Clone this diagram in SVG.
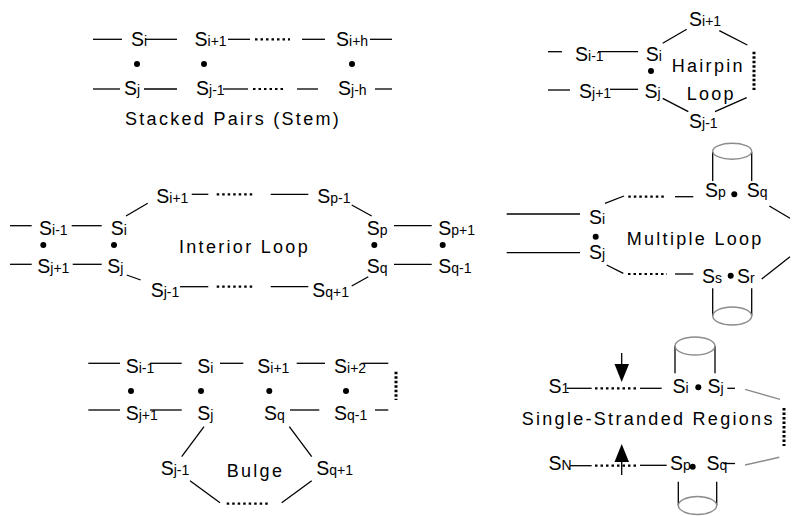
<svg xmlns="http://www.w3.org/2000/svg" width="794" height="516" viewBox="0 0 794 516">
<style>
.l{stroke:#000;stroke-width:1.3;fill:none}
.d{stroke:#000;stroke-width:2.2;stroke-dasharray:2.5 3;fill:none}
.v{stroke:#000;stroke-width:3;stroke-dasharray:2.5 2;fill:none}
.g{stroke:#8c8c8c;stroke-width:1.4;fill:none}
.t{font-family:"Liberation Sans",Arial,sans-serif;font-size:19.5px;fill:#000}
.s{font-size:14px}
.lab{font-family:"Liberation Sans",Arial,sans-serif;font-size:18px;letter-spacing:2.3px;fill:#000}
.b{fill:#000}
</style>
<rect width="794" height="516" fill="#fff"/>

<!-- Stacked pairs -->
<g id="sp_i" class="t"><text x="131" y="45.5">S<tspan class="s">i</tspan></text></g>
<g id="sp_i1" class="t"><text x="194.5" y="45.5">S<tspan class="s">i+1</tspan></text></g>
<g id="sp_ih" class="t"><text x="336" y="45.5">S<tspan class="s">i+h</tspan></text></g>
<g id="sp_j" class="t"><text x="124" y="95">S<tspan class="s">j</tspan></text></g>
<g id="sp_j1" class="t"><text x="196" y="95">S<tspan class="s">j-1</tspan></text></g>
<g id="sp_jh" class="t"><text x="338" y="95">S<tspan class="s">j-h</tspan></text></g>
<g id="sp_label"><text class="lab" x="125" y="125">Stacked Pairs (Stem)</text></g>

<!-- Hairpin -->
<g id="hp_im1" class="t"><text x="575" y="61">S<tspan class="s">i-1</tspan></text></g>
<g id="hp_i" class="t"><text x="645.7" y="61">S<tspan class="s">i</tspan></text></g>
<g id="hp_jp1" class="t"><text x="579" y="98.3">S<tspan class="s">j+1</tspan></text></g>
<g id="hp_j" class="t"><text x="644.5" y="98">S<tspan class="s">j</tspan></text></g>
<g id="hp_ip1" class="t"><text x="689" y="25.7">S<tspan class="s">i+1</tspan></text></g>
<g id="hp_jm1" class="t"><text x="689" y="128.3">S<tspan class="s">j-1</tspan></text></g>
<g id="hp_label"><text class="lab" x="671.7" y="72.3">Hairpin</text><text class="lab" x="686.7" y="100">Loop</text></g>

<!-- Interior loop -->
<g id="il_im1" class="t"><text x="39" y="235">S<tspan class="s">i-1</tspan></text></g>
<g id="il_i" class="t"><text x="110.7" y="235">S<tspan class="s">i</tspan></text></g>
<g id="il_jp1" class="t"><text x="37.3" y="273.3">S<tspan class="s">j+1</tspan></text></g>
<g id="il_j" class="t"><text x="107.3" y="273.3">S<tspan class="s">j</tspan></text></g>
<g id="il_ip1" class="t"><text x="156.3" y="203.3">S<tspan class="s">i+1</tspan></text></g>
<g id="il_pm1" class="t"><text x="317.3" y="203.3">S<tspan class="s">p-1</tspan></text></g>
<g id="il_p" class="t"><text x="366.7" y="235">S<tspan class="s">p</tspan></text></g>
<g id="il_pp1" class="t"><text x="438.3" y="235">S<tspan class="s">p+1</tspan></text></g>
<g id="il_q" class="t"><text x="366.7" y="273.3">S<tspan class="s">q</tspan></text></g>
<g id="il_qm1" class="t"><text x="438.3" y="273.3">S<tspan class="s">q-1</tspan></text></g>
<g id="il_qp1" class="t"><text x="312.3" y="296.7">S<tspan class="s">q+1</tspan></text></g>
<g id="il_jm1" class="t"><text x="150.7" y="296.7">S<tspan class="s">j-1</tspan></text></g>
<g id="il_label"><text class="lab" x="179" y="253.3">Interior Loop</text></g>

<!-- Multiple loop -->
<g id="ml_i" class="t"><text x="589" y="224">S<tspan class="s">i</tspan></text></g>
<g id="ml_j" class="t"><text x="589" y="259">S<tspan class="s">j</tspan></text></g>
<g id="ml_p" class="t"><text x="705" y="196.5">S<tspan class="s">p</tspan></text></g>
<g id="ml_q" class="t"><text x="746.7" y="196.5">S<tspan class="s">q</tspan></text></g>
<g id="ml_s" class="t"><text x="702" y="283">S<tspan class="s">s</tspan></text></g>
<g id="ml_r" class="t"><text x="737" y="283">S<tspan class="s">r</tspan></text></g>
<g id="ml_helix1"><line class="l" x1="712.7" y1="152" x2="712.7" y2="181"/><line class="l" x1="751.7" y1="152" x2="751.7" y2="181"/><ellipse class="g" cx="732.2" cy="151.3" rx="19.5" ry="8"/></g>
<g id="ml_helix2"><line class="l" x1="712.7" y1="288.3" x2="712.7" y2="316"/><line class="l" x1="751.7" y1="288.3" x2="751.7" y2="316"/><ellipse class="g" cx="732.2" cy="316" rx="19.5" ry="9"/></g>
<g id="ml_label"><text class="lab" x="626.7" y="245">Multiple Loop</text></g>

<!-- Bulge -->
<g id="bu_im1" class="t"><text x="125.7" y="373.3">S<tspan class="s">i-1</tspan></text></g>
<g id="bu_i" class="t"><text x="197.3" y="373.3">S<tspan class="s">i</tspan></text></g>
<g id="bu_ip1" class="t"><text x="257.3" y="373.3">S<tspan class="s">i+1</tspan></text></g>
<g id="bu_ip2" class="t"><text x="334" y="373.3">S<tspan class="s">i+2</tspan></text></g>
<g id="bu_jp1" class="t"><text x="125.7" y="420">S<tspan class="s">j+1</tspan></text></g>
<g id="bu_j" class="t"><text x="197.3" y="420">S<tspan class="s">j</tspan></text></g>
<g id="bu_q" class="t"><text x="264" y="420">S<tspan class="s">q</tspan></text></g>
<g id="bu_qm1" class="t"><text x="334" y="420">S<tspan class="s">q-1</tspan></text></g>
<g id="bu_jm1" class="t"><text x="160.7" y="475">S<tspan class="s">j-1</tspan></text></g>
<g id="bu_qp1" class="t"><text x="316.3" y="475">S<tspan class="s">q+1</tspan></text></g>
<g id="bu_label"><text class="lab" x="226.7" y="476.7">Bulge</text></g>

<!-- Single-stranded -->
<g id="ss_1" class="t"><text x="548.5" y="393.3">S<tspan class="s">1</tspan></text></g>
<g id="ss_i" class="t"><text x="672.5" y="393.3">S<tspan class="s">i</tspan></text></g>
<g id="ss_j" class="t"><text x="707.5" y="393.3">S<tspan class="s">j</tspan></text></g>
<g id="ss_N" class="t"><text x="548.5" y="470">S<tspan class="s">N</tspan></text></g>
<g id="ss_p" class="t"><text x="670" y="470">S<tspan class="s">p</tspan></text></g>
<g id="ss_q" class="t"><text x="706.5" y="470">S<tspan class="s">q</tspan></text></g>
<g id="ss_helix1"><line class="l" x1="675" y1="346" x2="675" y2="373.3"/><line class="l" x1="715" y1="346" x2="715" y2="373.3"/><ellipse class="g" cx="695" cy="346" rx="20" ry="9"/></g>
<g id="ss_helix2"><line class="l" x1="678.3" y1="481.7" x2="678.3" y2="505.5"/><line class="l" x1="716.7" y1="481.7" x2="716.7" y2="505.5"/><ellipse class="g" cx="697.5" cy="505.5" rx="19.2" ry="9"/></g>
<g id="ss_arrow_top"><line class="l" x1="621.7" y1="353" x2="621.7" y2="367" stroke-width="3"/><polygon class="b" points="614.5,364 629,364 621.7,382"/></g>
<g id="ss_arrow_bottom"><line class="l" x1="621.7" y1="459" x2="621.7" y2="475" stroke-width="3"/><polygon class="b" points="614.5,462 629,462 621.7,444"/></g>
<g id="ss_label"><text class="lab" x="521.7" y="425">Single-Stranded Regions</text></g>

<!-- pairing bullets -->
<g id="pairs" class="b">
<circle cx="137" cy="64" r="3"/><circle cx="204" cy="64" r="3"/><circle cx="352" cy="64" r="3"/>
<circle cx="651" cy="71" r="3"/>
<circle cx="43.3" cy="245" r="3"/><circle cx="114" cy="245" r="3"/><circle cx="374.3" cy="245" r="3"/><circle cx="442.7" cy="245" r="3"/>
<circle cx="595.7" cy="236.7" r="3"/><circle cx="734.3" cy="194.3" r="3"/><circle cx="730.7" cy="275.7" r="3"/>
<circle cx="131" cy="391" r="3"/><circle cx="201" cy="391" r="3"/><circle cx="269.3" cy="391" r="3"/><circle cx="346" cy="391" r="3"/>
<circle cx="698.3" cy="387.3" r="3"/><circle cx="692.7" cy="466.7" r="3"/>
</g>

<!-- connectors -->
<g id="connectors">
<line class="l" x1="93" y1="39.3" x2="122" y2="39.3"/>
<line class="l" x1="145" y1="39.3" x2="177" y2="39.3"/>
<line class="l" x1="228" y1="39.3" x2="250" y2="39.3"/>
<line class="d" x1="255" y1="39.3" x2="290" y2="39.3"/>
<line class="l" x1="302" y1="39.3" x2="325" y2="39.3"/>
<line class="l" x1="370" y1="39.3" x2="392" y2="39.3"/>
<line class="l" x1="93" y1="89" x2="120" y2="89"/>
<line class="l" x1="144" y1="89" x2="177" y2="89"/>
<line class="l" x1="223" y1="89" x2="248" y2="89"/>
<line class="d" x1="253" y1="89" x2="285" y2="89"/>
<line class="l" x1="297" y1="89" x2="318" y2="89"/>
<line class="l" x1="375" y1="89" x2="392" y2="89"/>
<line class="l" x1="548" y1="51.7" x2="562" y2="51.7"/>
<line class="l" x1="598" y1="51.7" x2="638" y2="51.7"/>
<line class="l" x1="548" y1="90" x2="570" y2="90"/>
<line class="l" x1="610" y1="89.3" x2="638" y2="89.3"/>
<line class="l" x1="662.7" y1="43.3" x2="686.7" y2="29.3"/>
<line class="l" x1="719.3" y1="30.7" x2="747.3" y2="45"/>
<line class="v" x1="754" y1="51.7" x2="754" y2="90"/>
<line class="l" x1="746.7" y1="97.7" x2="715" y2="111.7"/>
<line class="l" x1="662.7" y1="98.3" x2="688.3" y2="111.7"/>
<line class="l" x1="10" y1="225.7" x2="31.7" y2="225.7"/>
<line class="l" x1="71.7" y1="225.7" x2="101.7" y2="225.7"/>
<line class="l" x1="10" y1="264.3" x2="31.7" y2="264.3"/>
<line class="l" x1="72.7" y1="264.3" x2="101.7" y2="264.3"/>
<line class="l" x1="126" y1="216" x2="147.7" y2="203.3"/>
<line class="l" x1="191.7" y1="194.3" x2="208.3" y2="194.3"/>
<line class="d" x1="216.7" y1="194.3" x2="255" y2="194.3"/>
<line class="l" x1="270.7" y1="194.3" x2="308.3" y2="194.3"/>
<line class="l" x1="351.7" y1="205" x2="371.7" y2="216"/>
<line class="l" x1="394" y1="225.7" x2="431.7" y2="225.7"/>
<line class="l" x1="394" y1="264.3" x2="431.7" y2="264.3"/>
<line class="l" x1="368.3" y1="276.7" x2="351.7" y2="286"/>
<line class="l" x1="270.7" y1="286.7" x2="308.3" y2="286.7"/>
<line class="d" x1="216.7" y1="286.7" x2="255" y2="286.7"/>
<line class="l" x1="180" y1="286.7" x2="208.3" y2="286.7"/>
<line class="l" x1="126.7" y1="275" x2="140.7" y2="280"/>
<line class="l" x1="506.7" y1="214" x2="580" y2="214"/>
<line class="l" x1="506.7" y1="252.7" x2="580" y2="252.7"/>
<line class="l" x1="605" y1="203.3" x2="624" y2="196"/>
<line class="d" x1="628.3" y1="196.7" x2="666.7" y2="196.7"/>
<line class="l" x1="675" y1="196.7" x2="693.3" y2="196.7"/>
<line class="l" x1="769.3" y1="206" x2="790" y2="218.3"/>
<line class="l" x1="606.7" y1="265" x2="623.3" y2="273.3"/>
<line class="d" x1="628" y1="274" x2="667" y2="274"/>
<line class="l" x1="675" y1="274" x2="693.3" y2="274"/>
<line class="l" x1="761.7" y1="279" x2="790" y2="256.7"/>
<line class="l" x1="88.3" y1="363.3" x2="120" y2="363.3"/>
<line class="l" x1="150" y1="363.3" x2="181.7" y2="363.3"/>
<line class="l" x1="220" y1="363.3" x2="243.3" y2="363.3"/>
<line class="l" x1="296.7" y1="363.3" x2="325" y2="363.3"/>
<line class="l" x1="361.7" y1="363.3" x2="388.3" y2="363.3"/>
<line class="v" x1="396" y1="371.7" x2="396" y2="400"/>
<line class="l" x1="88.3" y1="410" x2="120" y2="410"/>
<line class="l" x1="150" y1="410" x2="181.7" y2="410"/>
<line class="l" x1="290" y1="410" x2="319.3" y2="410"/>
<line class="l" x1="375" y1="410" x2="388.3" y2="410"/>
<line class="l" x1="204" y1="426.7" x2="181.7" y2="456.7"/>
<line class="l" x1="289.3" y1="426.7" x2="311.7" y2="456.7"/>
<line class="l" x1="190" y1="480.7" x2="220" y2="502.7"/>
<line class="d" x1="226.7" y1="503.7" x2="270" y2="503.7"/>
<line class="l" x1="281.7" y1="502.7" x2="311.7" y2="480.7"/>
<line class="l" x1="566.7" y1="388.3" x2="591.7" y2="388.3"/>
<line class="d" x1="595" y1="388.3" x2="638.3" y2="388.3"/>
<line class="l" x1="640" y1="388.3" x2="661.7" y2="388.3"/>
<line class="l" x1="727.3" y1="388.3" x2="735" y2="388.3"/>
<line class="g" x1="745" y1="389.3" x2="780" y2="399.3"/>
<line class="v" x1="784" y1="408" x2="784" y2="446"/>
<line class="l" x1="570" y1="465.7" x2="591.7" y2="465.7"/>
<line class="d" x1="595" y1="465.7" x2="638.3" y2="465.7"/>
<line class="l" x1="640" y1="465.3" x2="666.7" y2="465.3"/>
<line class="l" x1="723.3" y1="463.5" x2="735" y2="463.5"/>
<line class="g" x1="745" y1="465" x2="779.3" y2="457.3"/>
</g>
</svg>
